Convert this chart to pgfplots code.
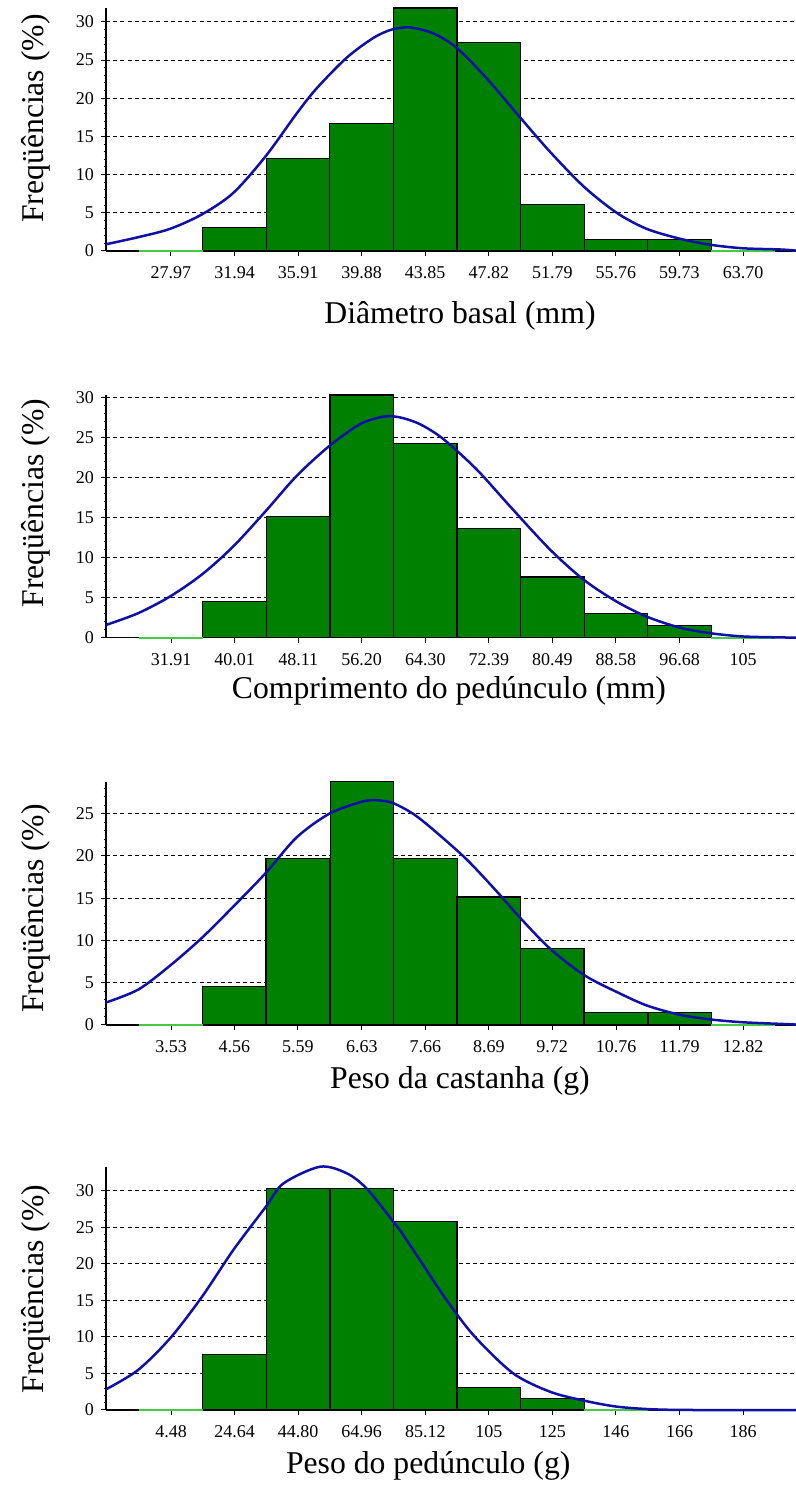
\documentclass[border=0pt]{standalone}
\usepackage{fontspec}
\setmainfont{Liberation Serif}
\usepackage{pgfplots}
\pgfplotsset{compat=1.18}

\definecolor{barfill}{RGB}{0,128,0}
\definecolor{fitblue}{RGB}{16,16,168}
\definecolor{zerogreen}{RGB}{70,200,70}

\pgfplotsset{
  histo/.style={
    scale only axis, width=345pt,
    axis x line*=bottom, axis y line*=left,
    x axis line style={-, line width=0.6pt},
    y axis line style={-, line width=0.6pt},
    ymin=0,
    ytick={0,5,...,30}, minor y tick num=4,
    tick align=outside,
    major tick length=2.5pt, minor tick length=1.2pt,
    every tick/.style={black, line width=0.5pt},
    ymajorgrids,
    grid style={black, dash pattern=on 2pt off 1.6pt, line width=0.5pt},
    tick label style={font=\fontsize{9}{10}\selectfont},
    xticklabel style={yshift=-1.8pt},
    /pgf/number format/assume math mode=true,
    label style={font=\fontsize{15.85}{18}\selectfont},
    ylabel={Freqüências (\%)},
    clip=false,
  },
  bars/.style={ybar, fill=barfill, draw=black, line width=0.6pt},
  fit/.style={fitblue, line width=1.25pt, smooth, mark=none},
  zero/.style={zerogreen, line width=0.9pt, mark=none},
}

\begin{document}
\begin{tikzpicture}
\useasboundingbox (0,0) rectangle (398pt,743pt);

% Diâmetro basal
\begin{axis}[histo, at={(53pt,617.5pt)}, anchor=south west, height=121.5pt,
  xmin=23.91, xmax=67.01, ymax=31.82,
  xtick={27.97,31.94,35.91,39.88,43.85,47.82,51.79,55.76,59.73,63.70},
  xticklabels={27.97,31.94,35.91,39.88,43.85,47.82,51.79,55.76,59.73,63.70},
  xlabel={Diâmetro basal (mm)},
  xlabel style={at={(axis description cs:0.513,-0.30)}, anchor=base},
  ylabel style={at={(axis description cs:-0.0913,0.545)}, anchor=base}]
\addplot[bars, bar width=3.97] coordinates {(31.94,3.03) (35.91,12.12) (39.88,16.67) (43.85,31.82) (47.82,27.27) (51.79,6.06) (55.76,1.52) (59.73,1.52)};
\addplot[zero] coordinates {(25.985,0) (29.955,0)};
\addplot[zero] coordinates {(61.715,0) (65.685,0)};
\addplot[fit] coordinates {(23.91,0.88) (25.91,1.8) (27.91,2.9) (29.91,4.8) (31.86,7.6) (33.88,12.4) (35.82,18.0) (37.07,21.3) (38.94,25.3) (40.61,27.9) (41.77,29.0) (42.9,29.27) (44.35,28.5) (45.81,26.6) (47.69,22.6) (49.81,17.4) (51.64,13.0) (53.77,8.4) (55.81,5.0) (57.68,2.9) (59.77,1.6) (61.7,0.8) (63.72,0.35) (66.0,0.2) (67.0,0.05)};
\end{axis}

% Comprimento do pedúnculo
\begin{axis}[histo, at={(53pt,424.15pt)}, anchor=south west, height=121.35pt,
  xmin=23.63, xmax=111.52, ymax=30.30,
  xtick={31.91,40.01,48.11,56.20,64.30,72.39,80.49,88.58,96.68,104.77},
  xticklabels={31.91,40.01,48.11,56.20,64.30,72.39,80.49,88.58,96.68,105},
  xlabel={Comprimento do pedúnculo (mm)},
  xlabel style={at={(axis description cs:0.497,-0.2526)}, anchor=base},
  ylabel style={at={(axis description cs:-0.0913,0.555)}, anchor=base}]
\addplot[bars, bar width=8.096] coordinates {(40.01,4.55) (48.11,15.15) (56.20,30.30) (64.30,24.24) (72.39,13.64) (80.49,7.58) (88.58,3.03) (96.68,1.52)};
\addplot[zero] coordinates {(27.862,0) (35.958,0)};
\addplot[zero] coordinates {(100.72,0) (108.82,0)};
\addplot[fit] coordinates {(23.63,1.59) (27.71,3.05) (31.78,5.14) (35.86,7.9) (39.85,11.4) (43.97,15.8) (47.92,20.2) (52.04,23.9) (55.98,26.65) (59.0,27.6) (61.08,27.5) (63.63,26.65) (66.6,24.8) (70.85,21.0) (75.09,16.4) (80.19,11.0) (84.52,7.2) (88.68,4.5) (92.5,2.63) (96.74,1.25) (100.69,0.55) (104.8,0.15) (109.85,0.03) (111.5,0)};
\end{axis}

% Peso da castanha
\begin{axis}[histo, at={(53pt,230.5pt)}, anchor=south west, height=121.65pt,
  xmin=2.474, xmax=13.68, ymax=28.79,
  xtick={3.53,4.56,5.59,6.63,7.66,8.69,9.72,10.76,11.79,12.82},
  xticklabels={3.53,4.56,5.59,6.63,7.66,8.69,9.72,10.76,11.79,12.82},
  xlabel={Peso da castanha (g)},
  xlabel style={at={(axis description cs:0.513,-0.259)}, anchor=base},
  ylabel style={at={(axis description cs:-0.0913,0.479)}, anchor=base}]
\addplot[bars, bar width=1.0322] coordinates {(4.56,4.55) (5.59,19.70) (6.63,28.79) (7.66,19.70) (8.69,15.15) (9.72,9.09) (10.76,1.52) (11.79,1.52)};
\addplot[zero] coordinates {(3.014,0) (4.046,0)};
\addplot[zero] coordinates {(12.30,0) (13.34,0)};
\addplot[fit] coordinates {(2.47,2.65) (3.0,4.2) (3.51,7.0) (4.03,10.3) (4.54,14.0) (5.07,18.0) (5.57,22.2) (6.10,25.0) (6.62,26.4) (6.85,26.6) (7.12,26.3) (7.46,25.0) (7.79,23.1) (8.33,19.6) (8.82,15.8) (9.21,12.6) (9.69,9.0) (10.24,5.9) (10.77,3.9) (11.26,2.3) (11.8,1.2) (12.3,0.65) (12.82,0.32) (13.47,0.12) (13.68,0.05)};
\end{axis}

% Peso do pedúnculo
\begin{axis}[histo, at={(53pt,38pt)}, anchor=south west, height=121.65pt,
  xmin=-16.14, xmax=202.7, ymax=33.3,
  xtick={4.48,24.64,44.80,64.96,85.12,105.28,125.44,145.60,165.76,185.92},
  xticklabels={4.48,24.64,44.80,64.96,85.12,105,125,146,166,186},
  xlabel={Peso do pedúnculo (g)},
  xlabel style={at={(axis description cs:0.467,-0.259)}, anchor=base},
  ylabel style={at={(axis description cs:-0.0913,0.497)}, anchor=base}]
\addplot[bars, bar width=20.16] coordinates {(24.64,7.58) (44.80,30.30) (64.96,30.30) (85.12,25.76) (105.28,3.03) (125.44,1.52)};
\addplot[zero] coordinates {(-5.6,0) (14.56,0)};
\addplot[zero] coordinates {(135.52,0) (155.68,0)};
\addplot[fit] coordinates {(-16.14,2.83) (-5.99,5.47) (4.16,9.8) (14.31,15.5) (24.24,21.9) (34.52,27.8) (40.1,31.0) (51.74,33.3) (60.21,32.4) (66.55,30.3) (74.58,26.0) (77.11,24.6) (83.46,20.5) (91.93,15.0) (100.9,10.0) (113.05,5.0) (124.69,2.5) (135.47,1.28) (145.85,0.46) (156.95,0.1) (170,0) (202.7,0)};
\end{axis}
\end{tikzpicture}
\end{document}
